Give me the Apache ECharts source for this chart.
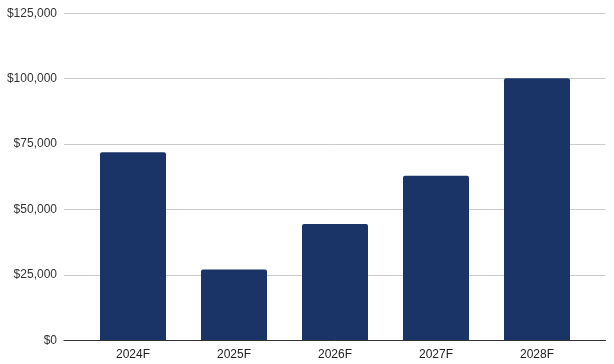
<!DOCTYPE html>
<html>
<head>
<meta charset="utf-8">
<script src="https://cdn.jsdelivr.net/npm/echarts@6/dist/echarts.min.js"></script>
<style>html,body{margin:0;padding:0;background:#fff}#c{width:614px;height:364px}</style>
</head>
<body>
<div id="c"></div>
<script>
const categories = ['2024F', '2025F', '2026F', '2027F', '2028F'];
const values = [71900, 27100, 44500, 62900, 100200];
const yTicks = [0, 25000, 50000, 75000, 100000, 125000];

const fmt = v => '$' + v.toLocaleString('en-US');
const chart = echarts.init(document.getElementById('c'), null, {renderer: 'canvas'});
chart.setOption({
  animation: false,
  backgroundColor: '#ffffff',
  grid: [
    {left: 64, right: 8.5, top: 13.3, bottom: 23.7},
    {left: 82.5, right: 26.5, top: 13.3, bottom: 23.7}
  ],
  xAxis: [
    {gridIndex: 0, type: 'category', data: [''], axisLine: {show: true, lineStyle: {color: '#333333', width: 1}},
     axisTick: {show: false}, axisLabel: {show: false}, z: 5},
    {gridIndex: 1, type: 'category', data: categories, axisLine: {show: false}, axisTick: {show: false},
     axisLabel: {color: '#222222', fontFamily: 'Liberation Sans, Arial, sans-serif', fontSize: 12, margin: 8}}
  ],
  yAxis: [
    {gridIndex: 0, type: 'value', min: yTicks[0], max: yTicks[yTicks.length - 1], interval: 25000,
     axisLine: {show: false}, axisTick: {show: false},
     axisLabel: {color: '#333333', fontFamily: 'Liberation Sans, Arial, sans-serif', fontSize: 12, margin: 7, formatter: fmt},
     splitLine: {lineStyle: {color: '#cccccc', width: 1}}},
    {gridIndex: 1, type: 'value', min: yTicks[0], max: yTicks[yTicks.length - 1], interval: 25000, show: false,
     splitLine: {show: false}}
  ],
  series: [{
    type: 'bar', xAxisIndex: 1, yAxisIndex: 1, data: values, barWidth: 66,
    itemStyle: {color: '#1b3468', borderRadius: [2, 2, 0, 0]}
  }]
});
</script>
</body>
</html>
